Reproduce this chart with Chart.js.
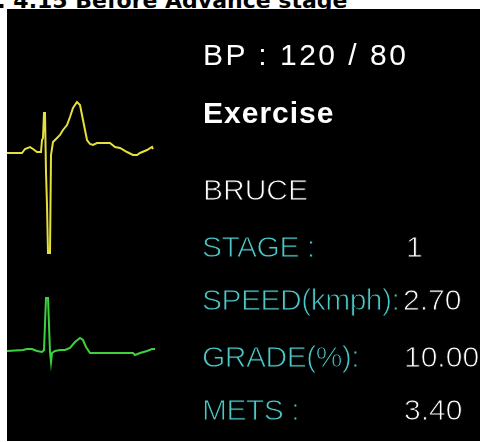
<!DOCTYPE html>
<html lang="en">
<head>
<meta charset="UTF-8">
<title>Fig. 4.15 Before Advance stage</title>
<script src="https://cdn.jsdelivr.net/npm/chart.js@4.4.0/dist/chart.umd.min.js"></script>
<style>
  * { margin: 0; padding: 0; box-sizing: border-box; }
  html, body { width: 481px; height: 442px; overflow: hidden; background: #fff; }
  body { position: relative; font-family: 'Liberation Sans', Arial, sans-serif; }

  .caption { position: absolute; left: -41px; top: -10px; font: bold 22px/22px 'DejaVu Sans', Verdana, sans-serif; color: #000; white-space: nowrap; }

  .monitor { position: absolute; left: 7px; top: 9px; width: 473px; height: 432px; background: #000; }
  .monitor canvas { position: absolute; left: 0; top: 0; }

  .txt { position: absolute; font-size: 30px; line-height: 30px; white-space: nowrap; color: #fff; }
  .bp { letter-spacing: 2.5px; }
  .mode { font-weight: bold; letter-spacing: 1px; }
  .thin { -webkit-text-stroke: 0.9px #000; }
  .lbl { color: #4cc8c8; letter-spacing: -0.5px; }
</style>
</head>
<body>
  <div class="caption">Fig. 4.15 Before Advance stage</div>

  <div class="monitor">
    <canvas id="ecg" width="473" height="432"></canvas>

    <!-- baseline = top + 25.4 (page y - 9) -->
    <div class="txt bp" style="left:196px;top:31px">BP : 120 / 80</div>
    <div class="txt mode" style="left:196px;top:89px">Exercise</div>
    <div class="txt thin" style="left:196px;top:166px">BRUCE</div>

    <div class="txt thin lbl" style="left:195px;top:223px">STAGE :</div>
    <div class="txt thin" style="left:399px;top:223px">1</div>

    <div class="txt thin lbl" style="left:195px;top:276px">SPEED(kmph):</div>
    <div class="txt thin" style="left:396px;top:276px">2.70</div>

    <div class="txt thin lbl" style="left:195px;top:333px">GRADE(%):</div>
    <div class="txt thin" style="left:397px;top:333px">10.00</div>

    <div class="txt thin lbl" style="left:195px;top:386px">METS :</div>
    <div class="txt thin" style="left:397px;top:386px">3.40</div>
  </div>

  <script>
    // lead 1 (yellow) - time in samples, amplitude in display units
    const yellowT  = [0, 15, 18, 23, 26, 30, 34, 35, 36, 37, 38, 39, 40, 41, 43, 44, 46, 50, 53, 56, 60, 63, 66, 70, 73, 76, 80, 83, 86, 90, 96, 103, 108, 113, 120, 126, 130, 133, 140, 145, 146];
    const yellowMv = [0, 0, 0.4, 0.6, 0.4, 0.1, 0.1, 1.3, 1.5, 4.0, 4.0, -2.0, -5.2, -10.0, -10.0, -0.2, 1.1, 1.5, 1.8, 2.3, 2.8, 3.6, 4.5, 5.1, 4.8, 3.3, 1.3, 0.9, 0.8, 1.0, 1.0, 1.0, 0.6, 0.5, 0.1, -0.2, -0.2, 0, 0.3, 0.6, 0.4];

    // lead 2 (green)
    const greenT  = [0, 16, 20, 25, 30, 35, 37, 39, 41, 43, 44, 45, 48, 53, 58, 63, 68, 73, 76, 79, 83, 90, 126, 128, 133, 140, 145, 148];
    const greenMv = [0, 0.1, 0.2, 0.2, 0, -0.1, 0.1, 5.3, 5.3, -0.1, -1.1, -0.2, 0, 0.1, 0.1, 0.3, 0.9, 1.3, 1.1, 0.4, -0.2, -0.2, -0.2, -0.4, -0.2, 0, 0.2, 0.2];

    const toPts = (xs, ys) => xs.map((x, i) => ({ x: x, y: ys[i] }));

    new Chart(document.getElementById('ecg').getContext('2d'), {
      type: 'scatter',
      data: {
        datasets: [
          {
            label: 'Lead I',
            data: toPts(yellowT, yellowMv),
            yAxisID: 'yY',
            showLine: true,
            borderColor: '#e6e03a',
            borderWidth: 2,
            pointRadius: 0,
            tension: 0
          },
          {
            label: 'Lead II',
            data: toPts(greenT, greenMv),
            yAxisID: 'yG',
            showLine: true,
            borderColor: '#3cd23c',
            borderWidth: 2,
            pointRadius: 0,
            tension: 0
          }
        ]
      },
      options: {
        responsive: false,
        animation: false,
        devicePixelRatio: 1,
        layout: { padding: 0 },
        plugins: { legend: { display: false }, tooltip: { enabled: false } },
        scales: {
          x:  { type: 'linear', min: 0, max: 473, display: false },
          yY: { type: 'linear', min: -28.8, max: 14.4, display: false },
          yG: { type: 'linear', min: -9.0, max: 34.2, display: false }
        }
      }
    });
  </script>
</body>
</html>
